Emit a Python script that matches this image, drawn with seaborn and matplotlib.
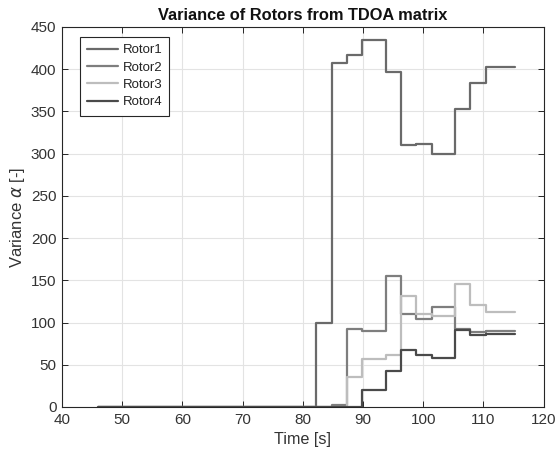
import matplotlib
matplotlib.use("Agg")
import matplotlib.pyplot as plt
import seaborn as sns
import pandas as pd

# ---- data ----
time_s = [46, 82.2, 84.8, 87.3, 89.8, 93.8, 96.4, 98.8, 101.4, 105.3, 107.8, 110.4, 115.2]
rotor1 = [0, 100, 407, 417, 435, 397, 310, 312, 300, 353, 384, 403, 403]
rotor2 = [0, 0, 2, 92, 90, 155, 110, 104, 118, 92, 89, 90, 90]
rotor3 = [0, 0, 0, 36, 57, 62, 132, 110, 108, 146, 121, 112, 112]
rotor4 = [0, 0, 0, 0, 20, 43, 67, 61, 58, 91, 85, 86, 86]
series_names = ["Rotor1", "Rotor2", "Rotor3", "Rotor4"]
series_colors = ["#6a6a6a", "#7e7e7e", "#bdbdbd", "#4a4a4a"]
x_ticks = [40, 50, 60, 70, 80, 90, 100, 110, 120]
y_ticks = [0, 50, 100, 150, 200, 250, 300, 350, 400, 450]

sns.set_theme(style="white")
plt.rcParams["font.family"] = ["Liberation Sans", "DejaVu Sans"]
plt.rcParams["mathtext.fontset"] = "dejavusans"

fig = plt.figure(figsize=(5.55, 4.54), dpi=100)
ax = fig.add_axes([62 / 555, 1 - 407 / 454, (543.5 - 62) / 555, (407 - 27) / 454])

frames = []
for name, vals in zip(series_names, [rotor1, rotor2, rotor3, rotor4]):
    frames.append(pd.DataFrame({"Time": time_s, "Variance": vals, "Rotor": name}))
df = pd.concat(frames, ignore_index=True)

for name, col in zip(series_names, series_colors):
    sub = df[df["Rotor"] == name]
    sns.lineplot(data=sub, x="Time", y="Variance", ax=ax, color=col, lw=1.6,
                 drawstyle="steps-post", estimator=None, sort=False, label=name)

axcol = (0.15, 0.15, 0.15)
ax.set_xlim(40, 120)
ax.set_ylim(0, 450)
ax.set_xticks(x_ticks)
ax.set_yticks(y_ticks)
ax.grid(True, color="#e3e3e3", lw=0.8)
ax.set_axisbelow(True)
for sp in ax.spines.values():
    sp.set_color(axcol)
    sp.set_linewidth(0.8)
    sp.set_visible(True)
ax.tick_params(direction="in", length=4, width=0.7, colors=axcol, labelsize=11,
               top=True, right=True, bottom=True, left=True, pad=4)
for lbl in ax.get_xticklabels() + ax.get_yticklabels():
    lbl.set_color("#333333")

ax.set_xlabel("Time [s]", fontsize=11.6, color="#333333", labelpad=4)
ax.set_ylabel(r"Variance $\alpha$ [-]", fontsize=12, color="#333333", labelpad=2.5)
ax.set_title("Variance of Rotors from TDOA matrix", fontsize=11.8, fontweight="bold",
             color="#111111", pad=5)

leg = ax.legend(loc="upper left", bbox_to_anchor=(17.5 / 481.5, 1 - 10 / 380), borderaxespad=0,
                fontsize=9.5, handlelength=2.4, handletextpad=0.3, labelspacing=0.38,
                borderpad=0.55, fancybox=False, framealpha=1, edgecolor=axcol)
leg.get_frame().set_linewidth(0.8)
for t in leg.get_texts():
    t.set_color("#222222")

fig.savefig("out.png", dpi=100)
